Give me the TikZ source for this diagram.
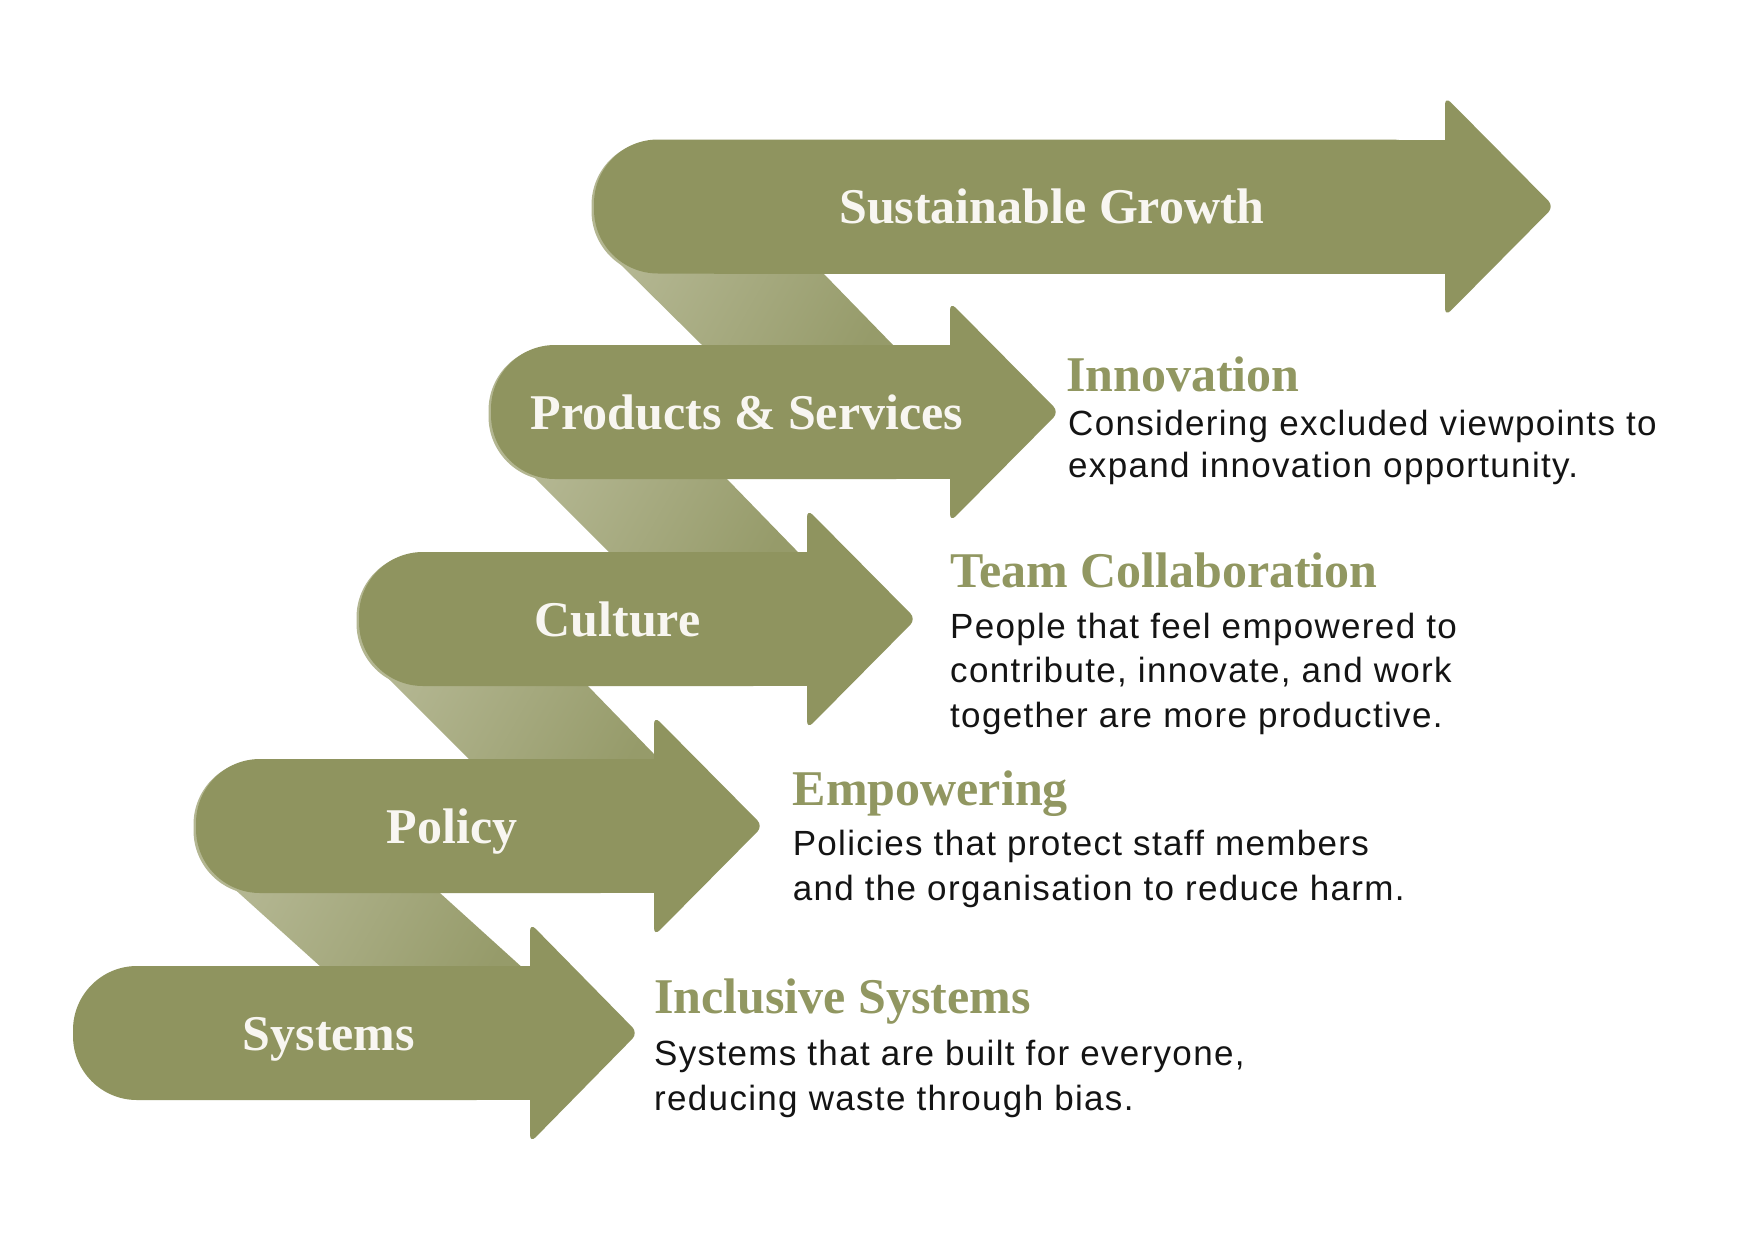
\documentclass[tikz,border=0pt]{standalone}
\usepackage{fontspec}
\setmainfont{Liberation Serif}
\newfontfamily\bodyfont[LetterSpace=3.8]{Liberation Sans}
\definecolor{arrowgreen}{RGB}{143,148,95}
\definecolor{titlegreen}{RGB}{145,151,97}
\definecolor{ribLight}{RGB}{179,182,145}
\definecolor{ribDark}{RGB}{150,155,106}
\definecolor{offwhite}{RGB}{248,246,241}
\definecolor{bodyblack}{RGB}{20,20,20}
\tikzset{
  lbl/.style={anchor=base, text=offwhite, font=\fontsize{50}{60}\selectfont\bfseries, inner sep=0pt},
  ttl/.style={anchor=base west, text=titlegreen, font=\fontsize{50}{60}\selectfont\bfseries, inner sep=0pt},
  bdy/.style={anchor=base west, text=bodyblack, font=\bodyfont\fontsize{35}{43}\selectfont, inner sep=0pt},
  ribshade/.style={left color=ribLight, right color=ribDark, shading angle=60},
}
\newcommand\arrowshape[4]{% L C H T
  \fill[arrowgreen, rounded corners=64] (#1,#2-67) rectangle (#3+10,#2+67);
  \fill[arrowgreen] (#1+120,#2-67) rectangle (#3+10,#2+67);
  \fill[arrowgreen, rounded corners=8] (#3,#2-110) -- (#4+5,#2) -- (#3,#2+110) -- cycle;
}
\newcommand\lightcap[2]{% L C
  \fill[ribLight, rounded corners=64] (#1-2.5,#2-67+1.5) rectangle (#1+200,#2+67+1.5);
}
\begin{document}
\begin{tikzpicture}[x=1pt,y=-1pt]
\useasboundingbox (0,0) rectangle (1748,1240);
\fill[white] (0,0) rectangle (1748,1240);
% ribbons
\lightcap{594}{206.5}
\shade[ribshade] (655.5,211) -- (613,257) -- (718.2,361) -- (908.6,361) -- (808.4,258) -- cycle;
\lightcap{491}{412}
\shade[ribshade] (552.5,416.5) -- (530,473) -- (624,567) -- (812.5,567) -- (712.4,464) -- cycle;
\lightcap{359}{619}
\shade[ribshade] (420.5,623.5) -- (383,673) -- (484,774) -- (673.4,774) -- (573.4,671) -- cycle;
\lightcap{196}{826}
\shade[ribshade] (257.5,830.5) -- (230,885) -- (336.5,981) -- (537.2,981) -- (423.4,878) -- cycle;
% arrows
\arrowshape{594}{206.5}{1445}{1549}
\arrowshape{491}{412}{950}{1054}
\arrowshape{359}{619}{807}{911}
\arrowshape{196}{826}{654}{758}
\arrowshape{73}{1033}{530}{633}
% arrow labels
\node[lbl] (l1) at (1052,223.5) {Sustainable Growth};
\node[lbl] (l2) at (747,429) {Products \& Services};
\node[lbl] (l3) at (617.6,636) {Culture};
\node[lbl] (l4) at (452,843) {Policy};
\node[lbl] (l5) at (329,1050) {Systems};
% descriptions
\node[ttl] (t2) at (1066,391) {Innovation};
\node[bdy] (b2a) at (1068,435) {Considering excluded viewpoints to};
\node[bdy] (b2b) at (1068,477.5) {expand innovation opportunity.};
\node[ttl] (t3) at (950,587) {Team Collaboration};
\node[bdy] (b3a) at (950,638) {People that feel empowered to};
\node[bdy] (b3b) at (950,682.5) {contribute, innovate, and work};
\node[bdy] (b3c) at (950,727) {together are more productive.};
\node[ttl] (t4) at (792.6,805) {Empowering};
\node[bdy] (b4a) at (792.6,855.5) {Policies that protect staff members};
\node[bdy] (b4b) at (792.6,900.5) {and the organisation to reduce harm.};
\node[ttl] (t5) at (654,1013) {Inclusive Systems};
\node[bdy] (b5a) at (654,1065.5) {Systems that are built for everyone,};
\node[bdy] (b5b) at (654,1110) {reducing waste through bias.};
\end{tikzpicture}
\end{document}
